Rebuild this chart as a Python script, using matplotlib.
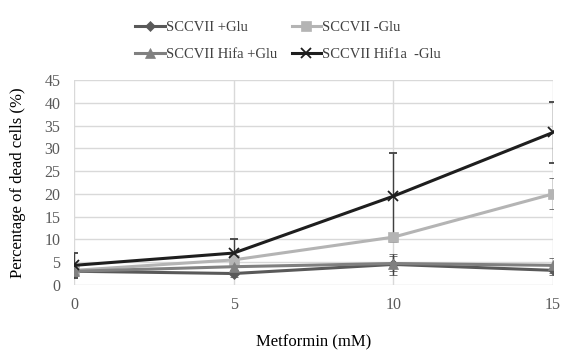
import numpy as np
import matplotlib.pyplot as plt

plt.rcParams['font.family'] = ['Liberation Serif', 'DejaVu Serif']

# data
metformin = [0, 5, 10, 15]
glu_plus = [3.0, 2.5, 4.5, 3.2]
glu_plus_err = [0.8, 0.8, 2.3, 1.0]
glu_minus = [3.2, 5.5, 10.5, 20.0]
glu_minus_err = [0.8, 1.0, 1.0, 3.4]
hifa_plus = [3.0, 4.0, 4.7, 4.3]
hifa_plus_err = [1.0, 0.8, 1.6, 1.6]
hif1a_minus = [4.3, 7.0, 19.5, 33.5]
hif1a_minus_err = [2.8, 3.0, 9.5, 6.6]

series = [
    ('SCCVII +Glu', glu_plus, glu_plus_err, '#595959', 'D', 5),
    ('SCCVII -Glu', glu_minus, glu_minus_err, '#b4b4b4', 's', 7),
    ('SCCVII Hifa +Glu', hifa_plus, hifa_plus_err, '#808080', '^', 7),
    ('SCCVII Hif1a  -Glu', hif1a_minus, hif1a_minus_err, '#1e1e1e', 'x', 7),
]

fig = plt.figure(figsize=(5.62, 3.5), dpi=100)
ax = fig.add_axes([0.132, 0.186, 0.852, 0.585])

for name, y, err, color, marker, ms in series:
    ax.errorbar(metformin, y, yerr=err, color=color, marker=marker, markersize=ms,
                linewidth=2.2, elinewidth=1, ecolor='#404040', capsize=3,
                markeredgewidth=1.3 if marker == 'x' else 0.5, label=name)

ax.set_xlim(0, 15)
ax.set_ylim(0, 45)
ax.set_xticks([0, 5, 10, 15])
ax.set_yticks(np.arange(0, 46, 5))
ax.grid(True, color='#d9d9d9', linewidth=1)
ax.set_axisbelow(True)
for s in ax.spines.values():
    s.set_visible(False)
ax.tick_params(length=0, labelsize=11.5, colors='#595959')
ax.tick_params(axis='y', pad=10)
ax.tick_params(axis='x', pad=9)

ax.set_xlabel('Metformin (mM)', fontsize=12, labelpad=15, color='#000000')
ax.set_ylabel('Percentage of dead cells (%)', fontsize=12, labelpad=13)

# legend filled row by row like the reference
handles, labels = ax.get_legend_handles_labels()
handles = [h[0] for h in handles]
order = [0, 2, 1, 3]
fig.legend([handles[i] for i in order], [labels[i] for i in order],
           loc='upper center', bbox_to_anchor=(0.513, 0.94), ncol=2,
           frameon=False, fontsize=10.5, handlelength=2.0, handletextpad=0.1,
           columnspacing=1.0, labelspacing=0.95, borderpad=0, borderaxespad=0,
           labelcolor='#404040')

plt.savefig('out.png', dpi=100)
